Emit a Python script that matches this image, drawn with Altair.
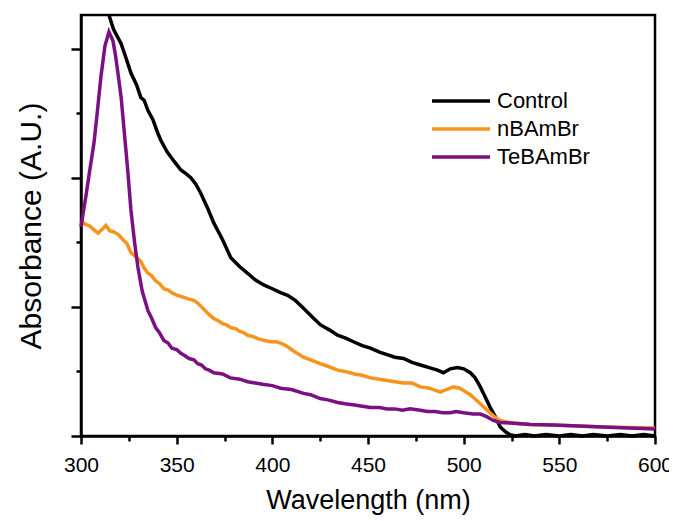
import altair as alt
import pandas as pd

series = ["Control", "nBAmBr", "TeBAmBr"]
colors = ["#000000", "#F7941E", "#7B1083"]

wl_control = [314.6, 317, 320.9, 323, 326.1, 329, 331.3, 333, 335, 337.6, 340, 341.7, 345, 348.5,
              352.2, 355, 357.4, 360, 362.6, 366, 369.4, 374, 378.3, 383, 387.1, 391, 395.5, 400,
              404.3, 408, 412, 416.3, 421, 425.2, 430, 434.1, 438, 442.4, 447, 451.3, 456, 460,
              464, 468.5, 473, 477.4, 482, 486.3, 489.4, 493, 496.7, 500, 503.5, 506, 508.7, 511,
              513.9, 516.5, 519.1, 522, 524.3, 527, 532, 537, 543, 550, 556, 562, 568, 575, 582,
              588, 594, 600]
abs_control = [3.26, 3.15, 3.04, 2.95, 2.81, 2.72, 2.62, 2.60, 2.52, 2.45, 2.35, 2.29, 2.20, 2.13,
               2.06, 2.03, 2.00, 1.95, 1.88, 1.77, 1.65, 1.52, 1.38, 1.31, 1.26, 1.21, 1.17, 1.14,
               1.11, 1.09, 1.05, 0.99, 0.92, 0.86, 0.82, 0.78, 0.76, 0.73, 0.70, 0.68, 0.65, 0.63,
               0.61, 0.60, 0.57, 0.55, 0.53, 0.51, 0.49, 0.52, 0.53, 0.52, 0.49, 0.45, 0.38, 0.31,
               0.22, 0.15, 0.07, 0.03, 0.01, 0.0, 0.012, 0.0, 0.012, 0.0, 0.012, 0.0, 0.012, 0.0,
               0.012, 0.0, 0.012, 0.0]

wl_nbam = [300, 302, 304.2, 306.5, 308.9, 311, 313, 315, 317.2, 319.5, 322, 324, 326.1, 328.5,
           331.3, 333, 335, 337, 339, 341, 343.3, 345.5, 347.5, 350, 352.2, 354.5, 356.5, 359,
           361, 363, 365, 367, 369.4, 372, 374, 376, 378.3, 381, 383, 385, 387.1, 390, 393, 396,
           399.1, 402, 404.3, 407, 410, 413, 416.3, 420, 425, 429, 434.1, 438, 443, 447, 451.3,
           456, 460, 464, 468.5, 473, 477.4, 482, 487.8, 491, 494.6, 498, 503.5, 508, 512.3, 516,
           519.1, 522, 525.9, 535, 546.8, 560, 572.9, 586, 600]
abs_nbam = [1.67, 1.64, 1.63, 1.60, 1.57, 1.60, 1.63, 1.59, 1.58, 1.56, 1.52, 1.49, 1.42, 1.39,
            1.35, 1.30, 1.26, 1.24, 1.20, 1.18, 1.14, 1.13, 1.11, 1.09, 1.08, 1.07, 1.06, 1.05,
            1.03, 1.00, 0.97, 0.94, 0.91, 0.89, 0.87, 0.86, 0.84, 0.83, 0.81, 0.80, 0.78, 0.77,
            0.75, 0.74, 0.73, 0.73, 0.72, 0.70, 0.67, 0.64, 0.61, 0.59, 0.56, 0.54, 0.51, 0.50,
            0.48, 0.47, 0.45, 0.44, 0.43, 0.42, 0.41, 0.41, 0.38, 0.37, 0.34, 0.36, 0.38, 0.37,
            0.32, 0.26, 0.20, 0.15, 0.12, 0.11, 0.10, 0.09, 0.085, 0.078, 0.07, 0.066, 0.062]

wl_tebam = [300, 302.6, 304.5, 306.8, 308.6, 310.4, 312.5, 314.6, 316.7, 318, 319.3, 321, 322.4,
            324.3, 326.1, 328, 329.7, 332, 335, 337, 339, 341, 343.3, 345.5, 347.5, 350, 352.2,
            354.5, 356.5, 359, 361, 363, 365, 367, 369.4, 374, 378, 383, 387.1, 391, 395, 400,
            404.3, 410, 416.3, 420, 425, 429, 434.1, 438, 443, 447, 451.3, 456, 460, 464, 468,
            472, 477.4, 481, 485, 489, 493, 496, 500, 505, 508.7, 512, 515.5, 519, 524.3, 535,
            546.8, 560, 572.9, 586, 600]
abs_tebam = [1.62, 1.86, 2.05, 2.27, 2.52, 2.78, 3.02, 3.13, 3.06, 2.95, 2.81, 2.62, 2.39, 2.08,
             1.75, 1.50, 1.31, 1.12, 0.97, 0.91, 0.84, 0.80, 0.74, 0.72, 0.68, 0.67, 0.64, 0.62,
             0.60, 0.59, 0.56, 0.55, 0.52, 0.51, 0.49, 0.48, 0.45, 0.44, 0.42, 0.41, 0.40, 0.39,
             0.37, 0.36, 0.33, 0.32, 0.29, 0.28, 0.26, 0.25, 0.24, 0.23, 0.22, 0.22, 0.21, 0.21,
             0.20, 0.21, 0.20, 0.19, 0.19, 0.18, 0.18, 0.19, 0.18, 0.17, 0.17, 0.15, 0.12, 0.105,
             0.10, 0.09, 0.085, 0.078, 0.07, 0.062, 0.054]

x_major = [300, 350, 400, 450, 500, 550, 600]
x_minor = [325, 375, 425, 475, 525, 575]
y_major = [0, 1, 2, 3]
y_minor = [0.5, 1.5, 2.5]

rows = []
for name, wls, vals in [("Control", wl_control, abs_control),
                        ("nBAmBr", wl_nbam, abs_nbam),
                        ("TeBAmBr", wl_tebam, abs_tebam)]:
    for i, (w, a) in enumerate(zip(wls, vals)):
        rows.append({"series": name, "wl": w, "abs": a, "order": i})
df = pd.DataFrame(rows)

FONT = "Liberation Sans"
xscale = alt.Scale(domain=[300, 600], nice=False, zero=False)
yscale = alt.Scale(domain=[0, 3.26], nice=False, zero=False)

lines = alt.Chart(df).mark_line(strokeWidth=3.5).encode(
    x=alt.X("wl:Q", scale=xscale,
            axis=alt.Axis(values=x_major, tickSize=8, labelPadding=10, labelFontSize=21,
                          labelFlush=False, format="d", title="Wavelength (nm)",
                          titleFontSize=27, titlePadding=12, orient="bottom")),
    y=alt.Y("abs:Q", scale=yscale,
            axis=alt.Axis(values=y_major, tickSize=10, labels=False,
                          title="Absorbance (A.U.)", titleFontSize=30, titlePadding=23,
                          orient="left")),
    color=alt.Color("series:N", scale=alt.Scale(domain=series, range=colors),
                    legend=alt.Legend(title=None, orient="none", legendX=349, legendY=72,
                                      symbolType="stroke", symbolSize=3364,
                                      symbolStrokeWidth=3.5, clipHeight=28,
                                      labelFontSize=22, labelFont=FONT, labelOffset=5,
                                      rowPadding=0, padding=0, symbolOffset=0,
                                      labelColor="black")),
    order="order:Q",
)

minor = alt.Chart(df).mark_point(opacity=0).encode(
    x=alt.X("wl:Q", scale=xscale,
            axis=alt.Axis(values=x_minor, tickSize=5, labels=False, title=None,
                          domain=False, orient="bottom")),
    y=alt.Y("abs:Q", scale=yscale,
            axis=alt.Axis(values=y_minor, tickSize=5, labels=False, title=None,
                          domain=False, orient="left")),
)

chart = alt.layer(lines, minor).resolve_axis(x="independent", y="independent").properties(
    width=574, height=421,
    autosize=alt.AutoSizeParams(type="none"),
    padding={"left": 73, "top": 7, "right": 14, "bottom": 90},
).configure_view(stroke="black", strokeWidth=2.5).configure_axis(
    domainColor="black", domainWidth=2.5, tickColor="black", tickWidth=2.5,
    labelFont=FONT, titleFont=FONT, titleFontWeight="normal", labelColor="black",
    titleColor="black", grid=False,
)

chart.save("out.html", embed_options={"renderer": "svg", "actions": False})
